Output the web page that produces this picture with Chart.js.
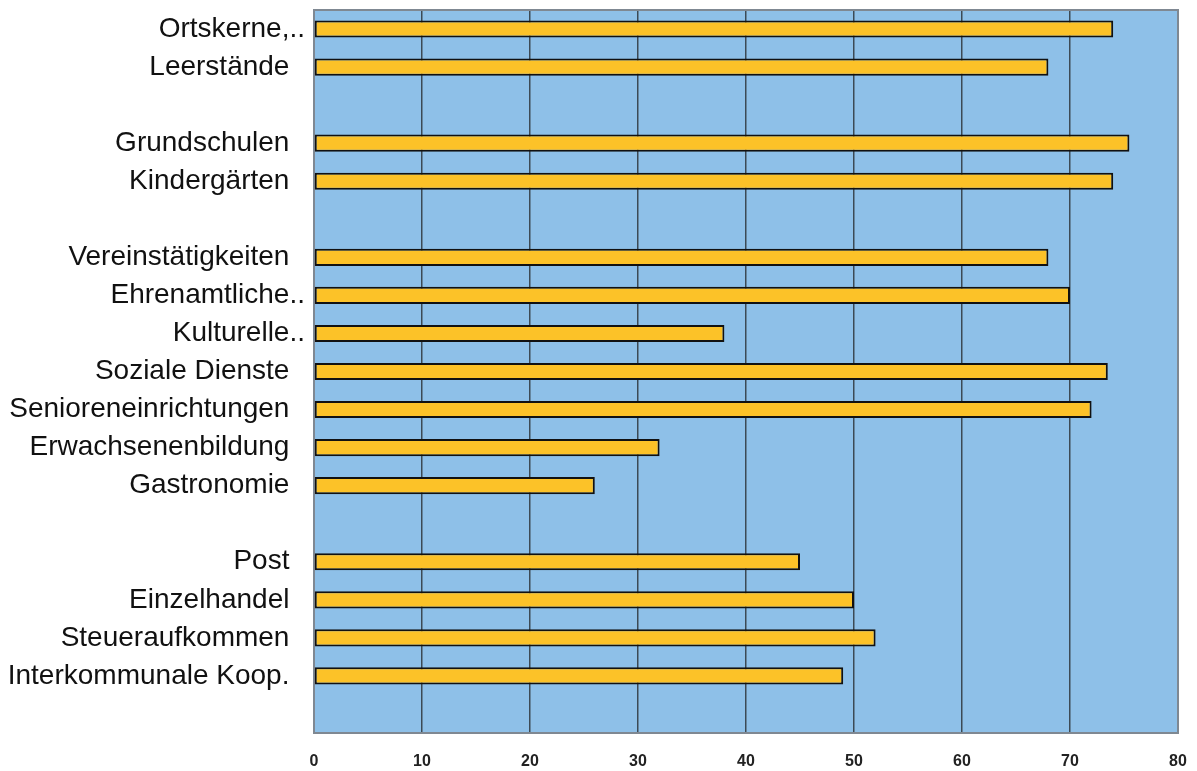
<!DOCTYPE html>
<html lang="de">
<head>
<meta charset="UTF-8">
<title>Balkendiagramm</title>
<script src="https://cdn.jsdelivr.net/npm/chart.js"></script>
<style>
  html, body { margin: 0; padding: 0; background: #fff; }
  #wrap { width: 1197px; height: 771px; }
</style>
</head>
<body>
<div id="wrap"><canvas id="chart"></canvas></div>
<script>
// empty strings are the gaps between the groups
const categories = [
  'Ortskerne,..', 'Leerstände', '',
  'Grundschulen', 'Kindergärten', '',
  'Vereinstätigkeiten', 'Ehrenamtliche..', 'Kulturelle..', 'Soziale Dienste',
  'Senioreneinrichtungen', 'Erwachsenenbildung', 'Gastronomie', '',
  'Post', 'Einzelhandel', 'Steueraufkommen', 'Interkommunale Koop.', ''
];
const values = [
  74, 68, null,
  75.5, 74, null,
  68, 70, 38, 73.5,
  72, 32, 26, null,
  45, 50, 52, 49, null
];
const xMin = 0;
const xMax = 80;
const xStep = 10;

// plot area fill + grey frame
const plotFrame = {
  id: 'plotFrame',
  beforeDraw(chart) {
    const { ctx, chartArea: a } = chart;
    ctx.save();
    ctx.fillStyle = '#8ec0e8';
    ctx.fillRect(a.left, a.top, a.right - a.left, a.bottom - a.top);
    ctx.restore();
  },
  beforeDatasetsDraw(chart) {
    const { ctx, chartArea: a } = chart;
    ctx.save();
    ctx.strokeStyle = '#7f8892';
    ctx.lineWidth = 2;
    ctx.strokeRect(a.left, a.top, a.right - a.left, a.bottom - a.top);
    ctx.restore();
  }
};

const ctx = document.getElementById('chart').getContext('2d');
new Chart(ctx, {
  type: 'bar',
  data: {
    labels: categories,
    datasets: [{
      data: values,
      backgroundColor: '#fcc228',
      borderColor: '#111',
      borderWidth: 2,
      borderSkipped: false,
      barPercentage: 0.45,
      categoryPercentage: 1
    }]
  },
  options: {
    indexAxis: 'y',
    responsive: true,
    maintainAspectRatio: false,
    animation: false,
    layout: { padding: { top: 10, right: 19, left: 0, bottom: 0 } },
    scales: {
      x: {
        min: xMin,
        max: xMax,
        ticks: {
          stepSize: xStep,
          color: '#222',
          font: { family: "'Liberation Sans', Arial, sans-serif", size: 16, weight: 'bold' },
          padding: 19
        },
        grid: { color: '#3c4a55', lineWidth: 1.5, drawTicks: false },
        border: { display: false },
        afterFit(scale) {
          scale.height = 38;
          scale.paddingLeft = 0;
          scale.paddingRight = 0;
        }
      },
      y: {
        grid: { display: false, drawTicks: false },
        border: { display: false },
        ticks: {
          autoSkip: false,
          color: '#111',
          font: { family: "'Liberation Sans', Arial, sans-serif", size: 28 },
          padding: 9,
          // truncated labels overhang the others a little, as in the original
          callback(value) {
            const lbl = this.getLabelForValue(value);
            return (lbl === '' || lbl.endsWith('..')) ? lbl : lbl + '  ';
          }
        },
        afterFit(scale) {
          scale.width = 314;
          scale.paddingTop = 0;
          scale.paddingBottom = 0;
        }
      }
    },
    plugins: {
      legend: { display: false },
      tooltip: { enabled: false }
    }
  },
  plugins: [plotFrame]
});
</script>
</body>
</html>
